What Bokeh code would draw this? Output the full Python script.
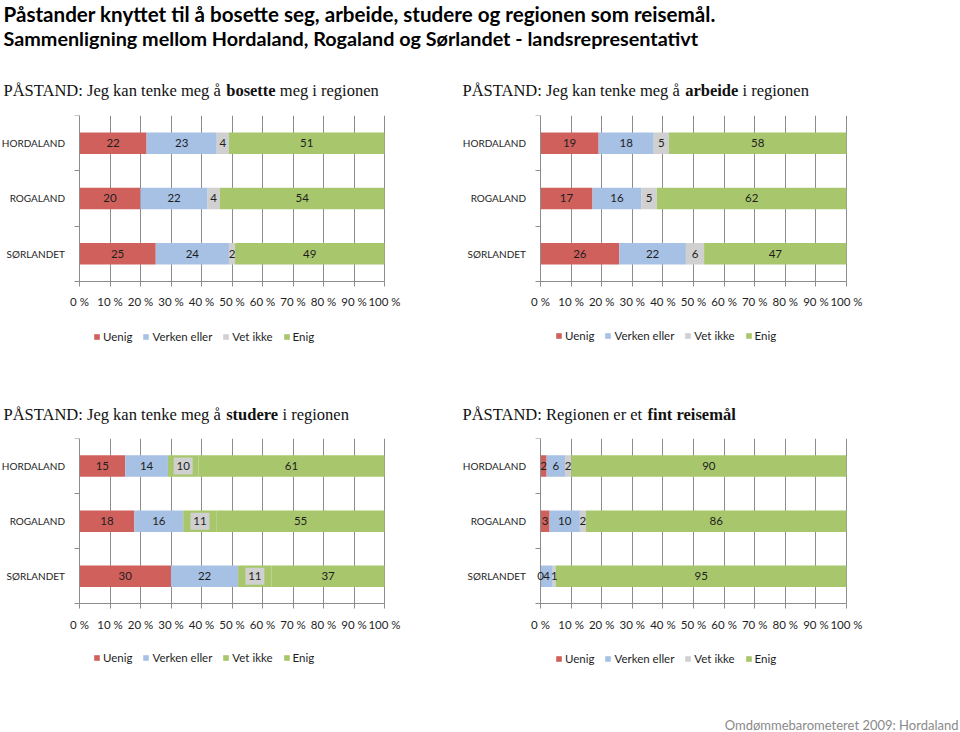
from bokeh.plotting import figure
from bokeh.models import (ColumnDataSource, Range1d, FixedTicker, Legend, LegendItem,
                          Label, LabelSet, LinearAxis)
from bokeh.layouts import column, row
from bokeh.core.properties import value
from bokeh.embed import file_html
from bokeh.resources import INLINE

# ---------------- data ----------------
categories = ["HORDALAND", "ROGALAND", "SØRLANDET"]
series = ["Uenig", "Verken eller", "Vet ikke", "Enig"]
x_ticks = [0, 10, 20, 30, 40, 50, 60, 70, 80, 90, 100]
x_tick_labels = ["0 %", "10 %", "20 %", "30 %", "40 %", "50 %", "60 %", "70 %", "80 %", "90 %", "100 %"]

bosette_uenig = [22, 20, 25]
bosette_verken = [23, 22, 24]
bosette_vetikke = [4, 4, 2]
bosette_enig = [51, 54, 49]

arbeide_uenig = [19, 17, 26]
arbeide_verken = [18, 16, 22]
arbeide_vetikke = [5, 5, 6]
arbeide_enig = [58, 62, 47]

studere_uenig = [15, 18, 30]
studere_verken = [14, 16, 22]
studere_vetikke = [10, 11, 11]
studere_enig = [61, 55, 37]

reise_uenig = [2, 3, 0]
reise_verken = [6, 10, 4]
reise_vetikke = [2, 2, 1]
reise_enig = [90, 86, 95]

main_title = ["Påstander knyttet til å bosette seg, arbeide, studere og regionen som reisemål.",
              "Sammenligning mellom Hordaland, Rogaland og Sørlandet - landsrepresentativt"]
footer_text = "Omdømmebarometeret 2009: Hordaland"

# ---------------- style ----------------
RED = "#d0605c"
BLUE = "#a6c1e4"
GREY = "#d0d0d0"
GREEN = "#a8c66c"
GRIDC = "#8c8c8c"
TXT = "#1e1e1e"
SANS = "Lato"
SERIF = "Liberation Serif"
BAND = 55.33      # pixels per category band
EXTRA = 70        # pixels of frame below the bars (tick labels + legend area)


def text_fig(height, win_top, labels):
    f = figure(width=960, height=height, x_range=Range1d(0, 960), y_range=Range1d(0, height),
               x_axis_type=None, y_axis_type=None, output_backend="svg",
               toolbar_location=None, min_border=0)
    f.outline_line_color = None
    for text, wx, wy, font, size, style, color, align in labels:
        f.add_layout(Label(x=wx, y=height - (wy - win_top), x_units="screen", y_units="screen",
                           text=text, text_font=font, text_font_size=size,
                           text_font_style=style, text_baseline="middle", text_align=align,
                           text_color=color))
    return f


def build(vals, colors, label_bg, win_left, width, height, bt, bb, x0w, x100w, legend_xw, legend_y):
    n = len(categories)
    ys = [n - 1 - i for i in range(n)]
    totals = [sum(v[i] for v in vals) for i in range(n)]
    y0 = -0.5
    bl, br = 0, 20
    ppu = (x100w - x0w) / 100.0
    fl = win_left + bl
    fr = win_left + width - br
    p = figure(width=width, height=height,
               x_range=Range1d((fl - x0w) / ppu, (fr - x0w) / ppu),
               y_range=Range1d(y0 - EXTRA / BAND, n - 0.5),
               y_axis_location=None,
               output_backend="svg", toolbar_location=None,
               min_border_left=bl, min_border_right=br, min_border_top=bt, min_border_bottom=bb)
    p.outline_line_color = None

    cum = [0] * n
    rends = []
    for j, v in enumerate(vals):
        left = [cum[i] / totals[i] * 100 for i in range(n)]
        right = [(cum[i] + v[i]) / totals[i] * 100 for i in range(n)]
        center = [(a + b) / 2 for a, b in zip(left, right)]
        cum = [cum[i] + v[i] for i in range(n)]
        src = ColumnDataSource(dict(y=ys, left=left, right=right, center=center,
                                    text=[str(x) for x in v]))
        r = p.hbar(y="y", left="left", right="right", height=0.39, fill_color=colors[j],
                   line_color=None, source=src)
        rends.append(r)
        if label_bg[j]:
            p.rect(x="center", y="y", width=19, height=17, width_units="screen",
                   height_units="screen", fill_color=label_bg[j], line_color=None, source=src)
        p.add_layout(LabelSet(x="center", y="y", text="text", source=src, text_align="center",
                              text_baseline="middle", text_font=value(SANS),
                              text_font_size=value("11.5px"), text_color=TXT))

    # category labels, right-aligned left of the value axis origin
    p.text(x=[0] * n, y=ys, text=categories, x_offset=-14.5, text_align="right",
           text_baseline="middle", text_font=value(SANS), text_font_size=value("10px"),
           text_color=TXT)

    xa = p.xaxis[0]
    xa.fixed_location = y0
    xa.bounds = (0, 100)
    xa.ticker = FixedTicker(ticks=x_ticks)
    xa.major_label_overrides = dict(zip(x_ticks, x_tick_labels))
    xa.major_tick_out = 5
    xa.major_tick_in = 0
    xa.minor_tick_line_color = None
    xa.axis_line_color = GRIDC
    xa.major_tick_line_color = GRIDC
    xa.major_label_text_font = SANS
    xa.major_label_text_font_size = "11.5px"
    xa.major_label_text_color = TXT
    xa.major_label_standoff = 9

    # category axis line at the 0 % position, tick marks at category boundaries
    ya = LinearAxis(fixed_location=0, bounds=(y0, n - 0.5),
                    ticker=FixedTicker(ticks=[], minor_ticks=[k - 0.5 for k in range(n + 1)]),
                    major_tick_out=0, major_tick_in=0, minor_tick_out=0, minor_tick_in=5,
                    minor_tick_line_color=GRIDC, axis_line_color=GRIDC,
                    major_label_text_font_size="0px")
    p.add_layout(ya, "right")

    p.ygrid.visible = False
    g = p.xgrid[0]
    if "cross_bounds" in g.properties():
        g.grid_line_color = GRIDC
        g.cross_bounds = (y0, n - 0.5)
    else:
        g.visible = False
        p.segment(x0=x_ticks, x1=x_ticks, y0=[y0] * len(x_ticks), y1=[n - 0.5] * len(x_ticks),
                  line_color=GRIDC, line_width=1)

    legend = Legend(items=[LegendItem(label=s, renderers=[r]) for s, r in zip(series, rends)],
                    orientation="horizontal", location=(legend_xw - fl, legend_y),
                    glyph_width=7, glyph_height=7, label_standoff=3, spacing=10, padding=0,
                    margin=0, label_height=12, border_line_color=None,
                    background_fill_alpha=0,
                    label_text_font=SANS, label_text_font_size="11.5px",
                    label_text_color=TXT)
    p.add_layout(legend)
    return p


std_colors = [RED, BLUE, GREY, GREEN]
no_bg = [None, None, None, None]

HS = "16.5px"
header = text_fig(105, 0, [
    (main_title[0], 3, 13.5, SANS, "20.6px", "bold", "#000000", "left"),
    (main_title[1], 3, 37.5, SANS, "19.8px", "bold", "#000000", "left"),
    ("PÅSTAND: Jeg kan tenke meg å", 3, 90, SERIF, HS, "normal", "#111111", "left"),
    ("bosette", 225.7, 90, SERIF, HS, "bold", "#111111", "left"),
    ("meg i regionen", 279.3, 90, SERIF, HS, "normal", "#111111", "left"),
    ("PÅSTAND: Jeg kan tenke meg å", 462, 90, SERIF, HS, "normal", "#111111", "left"),
    ("arbeide", 684.7, 90, SERIF, HS, "bold", "#111111", "left"),
    ("i regionen", 742, 90, SERIF, HS, "normal", "#111111", "left"),
])

# top row: window y 105..391, frame top 115, bars bottom 281, frame bottom 351
p1 = build([bosette_uenig, bosette_verken, bosette_vetikke, bosette_enig], std_colors, no_bg,
           0, 440, 286, 10, 40, 79, 384, 93, 8)
p2 = build([arbeide_uenig, arbeide_verken, arbeide_vetikke, arbeide_enig], std_colors, no_bg,
           440, 520, 286, 10, 40, 540, 846, 555, 9)

mid = text_fig(39, 391, [
    ("PÅSTAND: Jeg kan tenke meg å", 3, 414, SERIF, HS, "normal", "#111111", "left"),
    ("studere", 225.7, 414, SERIF, HS, "bold", "#111111", "left"),
    ("i regionen", 282, 414, SERIF, HS, "normal", "#111111", "left"),
    ("PÅSTAND: Regionen er et", 462, 414, SERIF, HS, "normal", "#111111", "left"),
    ("fint reisemål", 647.1, 414, SERIF, HS, "bold", "#111111", "left"),
])

# bottom row: window y 430..710
p3 = build([studere_uenig, studere_verken, studere_vetikke, studere_enig],
           [RED, BLUE, GREEN, GREEN], [None, None, GREY, None],
           0, 440, 280, 7, 37, 79, 384, 93, 9)
p4 = build([reise_uenig, reise_verken, reise_vetikke, reise_enig], std_colors, no_bg,
           440, 520, 280, 8, 36, 540, 846, 555, 8)

footer = text_fig(22, 710, [
    (footer_text, 958, 724, SANS, "13px", "normal", "#8a8a8a", "right"),
])

layout = column(header, row(p1, p2), mid, row(p3, p4), footer)
open("out.html", "w").write(file_html(layout, INLINE))
